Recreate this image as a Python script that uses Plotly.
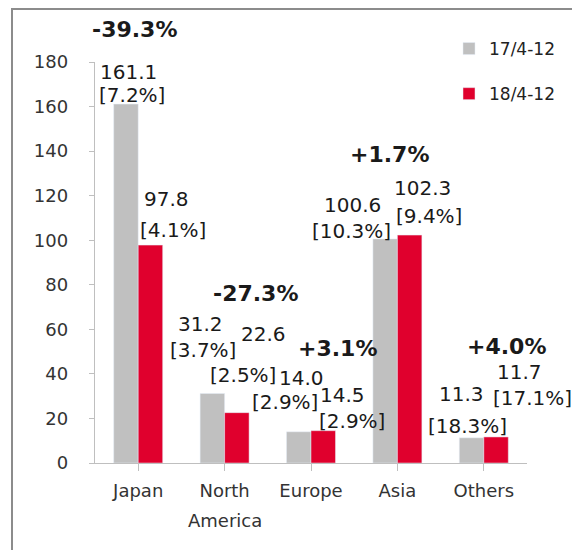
import plotly.graph_objects as go

categories = ["Japan", "North America", "Europe", "Asia", "Others"]
tick_lines = [["Japan"], ["North", "America"], ["Europe"], ["Asia"], ["Others"]]
series_names = ["17/4-12", "18/4-12"]
values_17 = [161.1, 31.2, 14.0, 100.6, 11.3]
values_18 = [97.8, 22.6, 14.5, 102.3, 11.7]
share_17 = ["7.2%", "3.7%", "2.9%", "10.3%", "18.3%"]
share_18 = ["4.1%", "2.5%", "2.9%", "9.4%", "17.1%"]
changes = ["-39.3%", "-27.3%", "+3.1%", "+1.7%", "+4.0%"]
y_ticks = [0, 20, 40, 60, 80, 100, 120, 140, 160, 180]

GRAY = "#c0c0c0"
RED = "#e0002d"
FONT = "DejaVu Sans"
Y_MAX = 180
N = len(categories)
PLOT_H = 401.0

# label placement (x in category units, y in data units)
pos_val17 = [(-0.11, 175.5), (0.72, 62.4), (1.89, 38.2), (2.48, 115.8), (3.74, 31.0)]
pos_sh17 = [(-0.075, 165.2), (0.75, 50.7), (1.70, 27.4), (2.47, 104.1), (3.81, 16.6)]
pos_val18 = [(0.33, 118.5), (1.45, 57.9), (2.37, 30.5), (3.29, 123.4), (4.41, 40.8)]
pos_sh18 = [(0.40, 104.6), (1.21, 39.5), (2.47, 18.9), (3.36, 110.9), (4.56, 29.2)]
pos_chg = [(-0.04, 194.4), (1.36, 76.3), (2.31, 51.2), (2.91, 138.3), (4.26, 52.1)]


def px(xc):
    return (xc + 0.5) / N


def py(yd):
    return yd / Y_MAX


fig = go.Figure()
fig.add_trace(go.Bar(x=list(range(N)), y=values_17, name=series_names[0],
                     marker_color=GRAY, legendgroup="a"))
fig.add_trace(go.Bar(x=list(range(N)), y=values_18, name=series_names[1],
                     marker_color=RED, legendgroup="b"))

anns = []


def add(text, pos, size=20, bold=False):
    anns.append(dict(x=px(pos[0]), y=py(pos[1]), xref="paper", yref="paper",
                     text=("<b>%s</b>" % text) if bold else text, showarrow=False,
                     xanchor="center", yanchor="middle",
                     font=dict(family=FONT, size=size, color="#1a1a1a")))


for i in range(N):
    add("%.1f" % values_17[i], pos_val17[i])
    add("[%s]" % share_17[i], pos_sh17[i])
    add("%.1f" % values_18[i], pos_val18[i])
    add("[%s]" % share_18[i], pos_sh18[i])
    add(changes[i], pos_chg[i], size=22, bold=True)

# second lines of category labels
for i, lines in enumerate(tick_lines):
    for k, line in enumerate(lines[1:], start=1):
        anns.append(dict(x=px(i), y=-(57.5 + 30 * (k - 1)) / PLOT_H, xref="paper", yref="paper",
                         text=line, showarrow=False, xanchor="center", yanchor="middle",
                         font=dict(family=FONT, size=18, color="#333333")))

# page body has an 8px margin: figure is placed at (8, 8)
fig.update_layout(
    width=572, height=542,
    margin=dict(l=87, r=53, t=54, b=87),
    paper_bgcolor="white", plot_bgcolor="white",
    barmode="group", bargap=0.433, bargroupgap=0,
    font=dict(family=FONT, size=17, color="#333333"),
    annotations=anns,
    showlegend=True,
    legend=dict(x=(449 - 95) / 432, y=(463 - 31) / PLOT_H, xanchor="left", yanchor="top",
                font=dict(family=FONT, size=17, color="#222222"),
                tracegroupgap=20, itemwidth=30, bgcolor="rgba(0,0,0,0)"),
    shapes=[dict(type="rect", xref="paper", yref="paper",
                 x0=(12 - 95) / 432, x1=(600 - 95) / 432,
                 y0=(463 - 580) / PLOT_H, y1=(463 - 9) / PLOT_H,
                 line=dict(color="#8c8c8c", width=2))],
)
fig.update_xaxes(range=[-0.5, N - 0.5], tickmode="array", tickvals=list(range(N)),
                 ticktext=[l[0] for l in tick_lines], ticks="outside", ticklen=7,
                 tickson="boundaries", tickcolor="#bfbfbf", showline=True,
                 linecolor="#bfbfbf", linewidth=1, showgrid=False, zeroline=False,
                 ticklabelstandoff=4,
                 tickfont=dict(family=FONT, size=18, color="#333333"))
fig.update_yaxes(range=[0, Y_MAX], tickmode="array", tickvals=y_ticks,
                 ticktext=[str(v) + "\u00a0\u00a0\u00a0" for v in y_ticks],
                 ticks="outside", ticklen=5, tickcolor="#bfbfbf", showline=True,
                 linecolor="#bfbfbf", linewidth=1, showgrid=False, zeroline=False,
                 tickfont=dict(family=FONT, size=18, color="#333333"))

fig.write_html("out.html")
